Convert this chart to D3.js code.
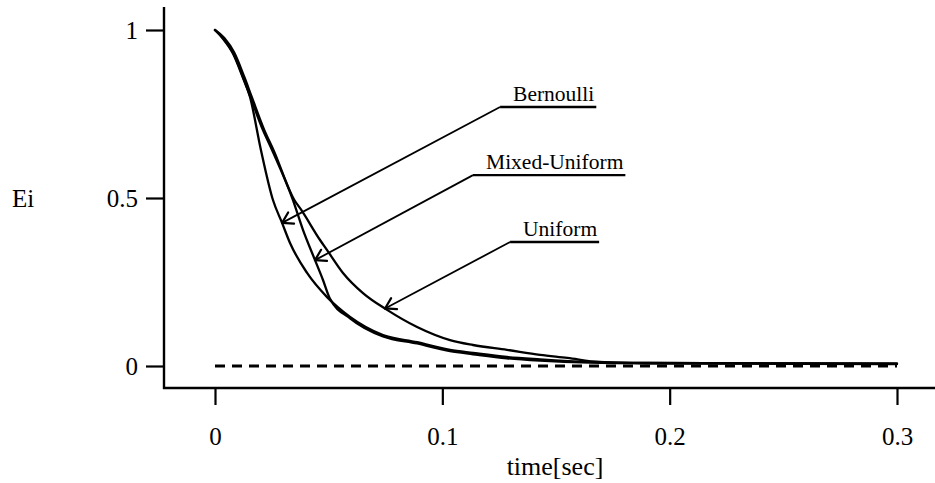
<!DOCTYPE html>
<html>
<head>
<meta charset="utf-8">
<script src="https://cdn.jsdelivr.net/npm/d3@7"></script>
<style>
  html, body { margin: 0; padding: 0; background: #fff; }
  svg { display: block; }
  text { font-family: "Liberation Serif", "Times New Roman", serif; fill: #000; }
</style>
</head>
<body>
<svg id="chart" width="935" height="483"></svg>
<script>
// Normalised energy Ei versus time for three sampling schemes.
const bernoulliT = [0, 0.0035, 0.0079, 0.0123, 0.0154, 0.0202, 0.0255, 0.0295, 0.0330, 0.0405, 0.0493, 0.0594, 0.0739, 0.0889, 0.1034, 0.1135, 0.1284, 0.1430, 0.1650, 0.1900, 0.3000];
const bernoulliE = [1, 0.976, 0.932, 0.860, 0.801, 0.643, 0.494, 0.426, 0.366, 0.277, 0.205, 0.146, 0.092, 0.071, 0.048, 0.039, 0.027, 0.020, 0.012, 0.009, 0.007];

const mixedT = [0, 0.0035, 0.0079, 0.0123, 0.0154, 0.0211, 0.0251, 0.0343, 0.0387, 0.0440, 0.0475, 0.0506, 0.0594, 0.0739, 0.0889, 0.1034, 0.1135, 0.1284, 0.1430, 0.1650, 0.1900, 0.3000];
const mixedE = [1, 0.974, 0.930, 0.858, 0.804, 0.702, 0.643, 0.494, 0.405, 0.315, 0.256, 0.200, 0.142, 0.088, 0.067, 0.044, 0.035, 0.023, 0.016, 0.010, 0.008, 0.006];

const uniformT = [0, 0.0041, 0.0085, 0.0129, 0.0160, 0.0217, 0.0257, 0.0349, 0.0378, 0.0462, 0.0493, 0.0563, 0.0651, 0.0757, 0.0889, 0.1034, 0.1135, 0.1284, 0.1430, 0.1550, 0.1690, 0.1900, 0.3000];
const uniformE = [1, 0.976, 0.932, 0.860, 0.804, 0.702, 0.643, 0.494, 0.466, 0.375, 0.345, 0.277, 0.217, 0.167, 0.116, 0.077, 0.0625, 0.048, 0.033, 0.024, 0.012, 0.009, 0.007];

const seriesNames = ["Bernoulli", "Mixed-Uniform", "Uniform"];
const xTicks = [0, 0.1, 0.2, 0.3];
const xTickLabels = ["0", "0.1", "0.2", "0.3"];
const yTicks = [0, 0.5, 1];
const yTickLabels = ["0", "0.5", "1"];

// Callouts: where each arrow points on its curve, and where its underlined label sits.
const calloutTipT = [0.0295, 0.0440, 0.0748];
const calloutLabelT = [0.1254, 0.1135, 0.1298];
const calloutLabelE = [0.771, 0.568, 0.369];

const svg = d3.select("#chart");
const x = d3.scaleLinear().domain([0, 0.3]).range([215, 897]);
const y = d3.scaleLinear().domain([0, 1]).range([366, 30]);

const axisX0 = 164, axisY0 = 388;

// Axis frame
svg.append("line").attr("x1", axisX0).attr("x2", axisX0).attr("y1", 7).attr("y2", axisY0 + 1)
  .attr("stroke", "#000").attr("stroke-width", 2.4);
svg.append("line").attr("x1", axisX0 - 1).attr("x2", 935).attr("y1", axisY0).attr("y2", axisY0)
  .attr("stroke", "#000").attr("stroke-width", 2.4);

// Y ticks
const yAxis = d3.axisLeft(y).tickValues(yTicks).tickSize(18).tickPadding(8)
  .tickFormat((d, i) => yTickLabels[i]);
const gy = svg.append("g").attr("transform", `translate(${axisX0},0)`).call(yAxis);
gy.select(".domain").remove();
gy.selectAll(".tick line").attr("stroke", "#000").attr("stroke-width", 2.2);
gy.selectAll(".tick text").attr("font-size", 25).attr("fill", "#000");

// X ticks
const xAxis = d3.axisBottom(x).tickValues(xTicks).tickSize(17).tickPadding(22)
  .tickFormat((d, i) => xTickLabels[i]);
const gx = svg.append("g").attr("transform", `translate(0,${axisY0})`).call(xAxis);
gx.select(".domain").remove();
gx.selectAll(".tick line").attr("stroke", "#000").attr("stroke-width", 2.2);
gx.selectAll(".tick text").attr("font-size", 25).attr("fill", "#000");

// Axis titles
svg.append("text").attr("x", 23).attr("y", 207).attr("text-anchor", "middle")
  .attr("font-size", 25).text("Ei");
svg.append("text").attr("x", 555).attr("y", 475).attr("text-anchor", "middle")
  .attr("font-size", 26).text("time[sec]");

// Zero reference (dashed)
svg.append("line").attr("x1", x(0)).attr("x2", x(0.3)).attr("y1", y(0)).attr("y2", y(0))
  .attr("stroke", "#000").attr("stroke-width", 2.8).attr("stroke-dasharray", "10,7");

// Curves
const line = d3.line().x(d => x(d[0])).y(d => y(d[1])).curve(d3.curveMonotoneX);
const series = [
  { name: seriesNames[0], t: bernoulliT, e: bernoulliE },
  { name: seriesNames[1], t: mixedT, e: mixedE },
  { name: seriesNames[2], t: uniformT, e: uniformE }
];
series.forEach(s => {
  s.pts = s.t.map((t, i) => [t, s.e[i]]);
  svg.append("path").datum(s.pts).attr("d", line)
    .attr("fill", "none").attr("stroke", "#000").attr("stroke-width", 2.3)
    .attr("stroke-linejoin", "round").attr("stroke-linecap", "round");
});

// Interpolate a series value at time t for placing arrow tips on the curve
function valueAt(s, t) {
  const i = d3.bisectRight(s.t, t);
  if (i <= 0) return s.e[0];
  if (i >= s.t.length) return s.e[s.e.length - 1];
  const t0 = s.t[i - 1], t1 = s.t[i];
  const f = (t - t0) / (t1 - t0);
  return s.e[i - 1] + f * (s.e[i] - s.e[i - 1]);
}

// Callout labels with leader arrows
series.forEach((s, i) => {
  const tx = x(calloutTipT[i]), ty = y(valueAt(s, calloutTipT[i]));
  const lx = x(calloutLabelT[i]), ly = y(calloutLabelE[i]);
  const g = svg.append("g");
  const label = g.append("text").attr("x", lx + 13).attr("y", ly - 6)
    .attr("font-size", 21.5).text(s.name);
  const w = label.node().getComputedTextLength();
  g.append("line").attr("x1", lx).attr("x2", lx + 13 + w + 2).attr("y1", ly).attr("y2", ly)
    .attr("stroke", "#000").attr("stroke-width", 2.4);
  g.append("line").attr("x1", lx).attr("y1", ly).attr("x2", tx).attr("y2", ty)
    .attr("stroke", "#000").attr("stroke-width", 1.8);
  const ang = Math.atan2(ly - ty, lx - tx);
  const len = 12, spread = 0.55;
  [ang - spread, ang + spread].forEach(a => {
    g.append("line").attr("x1", tx).attr("y1", ty)
      .attr("x2", tx + len * Math.cos(a)).attr("y2", ty + len * Math.sin(a))
      .attr("stroke", "#000").attr("stroke-width", 2.2).attr("stroke-linecap", "round");
  });
});
</script>
</body>
</html>
